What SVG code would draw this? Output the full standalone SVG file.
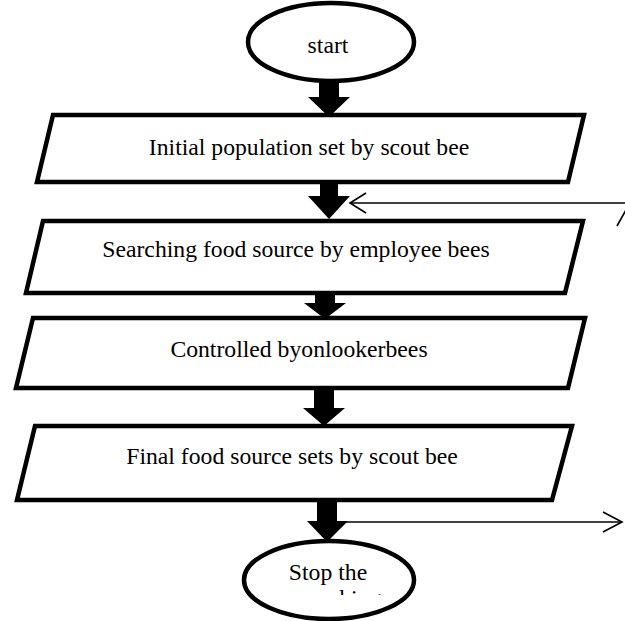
<svg xmlns="http://www.w3.org/2000/svg" width="625" height="621" viewBox="0 0 625 621">
<style>
.shape{fill:#fff;stroke:#000;stroke-width:4.5;stroke-linejoin:miter}
.lbl{font-family:"Liberation Serif","Times New Roman",serif;font-size:23.7px;fill:#000;text-anchor:middle}
.blk{fill:#000;stroke:none}
.thin{fill:none;stroke:#000;stroke-width:1.6}
</style>
<defs>
<clipPath id="clip2"><rect x="250" y="588" width="160" height="7"/></clipPath>
</defs>
<rect width="625" height="621" fill="#fff"/>
<g id="start">
<ellipse class="shape" cx="331" cy="42" rx="83" ry="39"/>
<text class="lbl" x="328" y="53">start</text>
</g>
<g id="initial">
<polygon class="shape" points="53,115 584,115 568,182 37,182"/>
<text class="lbl" x="309" y="155">Initial population set by scout bee</text>
</g>
<g id="searching">
<polygon class="shape" points="43,221 583,221 565,293 26,293"/>
<text class="lbl" x="296" y="257">Searching food source by employee bees</text>
</g>
<g id="controlled">
<polygon class="shape" points="33,318 585,318 568,388 16,388"/>
<text class="lbl" x="299" y="357">Controlled byonlookerbees</text>
</g>
<g id="final">
<polygon class="shape" points="35,426 572,426 552,500 17,500"/>
<text class="lbl" x="292" y="464">Final food source sets by scout bee</text>
</g>
<g id="stop">
<ellipse class="shape" cx="329" cy="580" rx="85" ry="39"/>
<text class="lbl" x="328" y="580">Stop the</text>
<text class="lbl" x="336" y="606" clip-path="url(#clip2)">searching</text>
</g>
<g id="connectors">
<polygon class="blk" points="319,80 339,80 339,97 350,97 329,117 308,97 319,97"/>
<polygon class="blk" points="320,183 338,183 338,196 350,196 329,219 308,196 320,196"/>
<polygon class="blk" points="315,294 335,294 335,303 346,303 325,319 304,303 315,303"/>
<polygon class="blk" points="314,389 334,389 334,408 345,408 324,426 303,408 314,408"/>
<polygon class="blk" points="317,501 337,501 337,521 348,521 327,542 307,521 317,521"/>
<line class="thin" x1="350" y1="203" x2="626" y2="203"/>
<polyline class="thin" points="366,193 350,203 366,213"/>
<line class="thin" x1="617" y1="226" x2="627" y2="208"/>
<line class="thin" x1="337" y1="522" x2="622" y2="522"/>
<polyline class="thin" points="603,512 622,522 603,532"/>
</g>
</svg>
